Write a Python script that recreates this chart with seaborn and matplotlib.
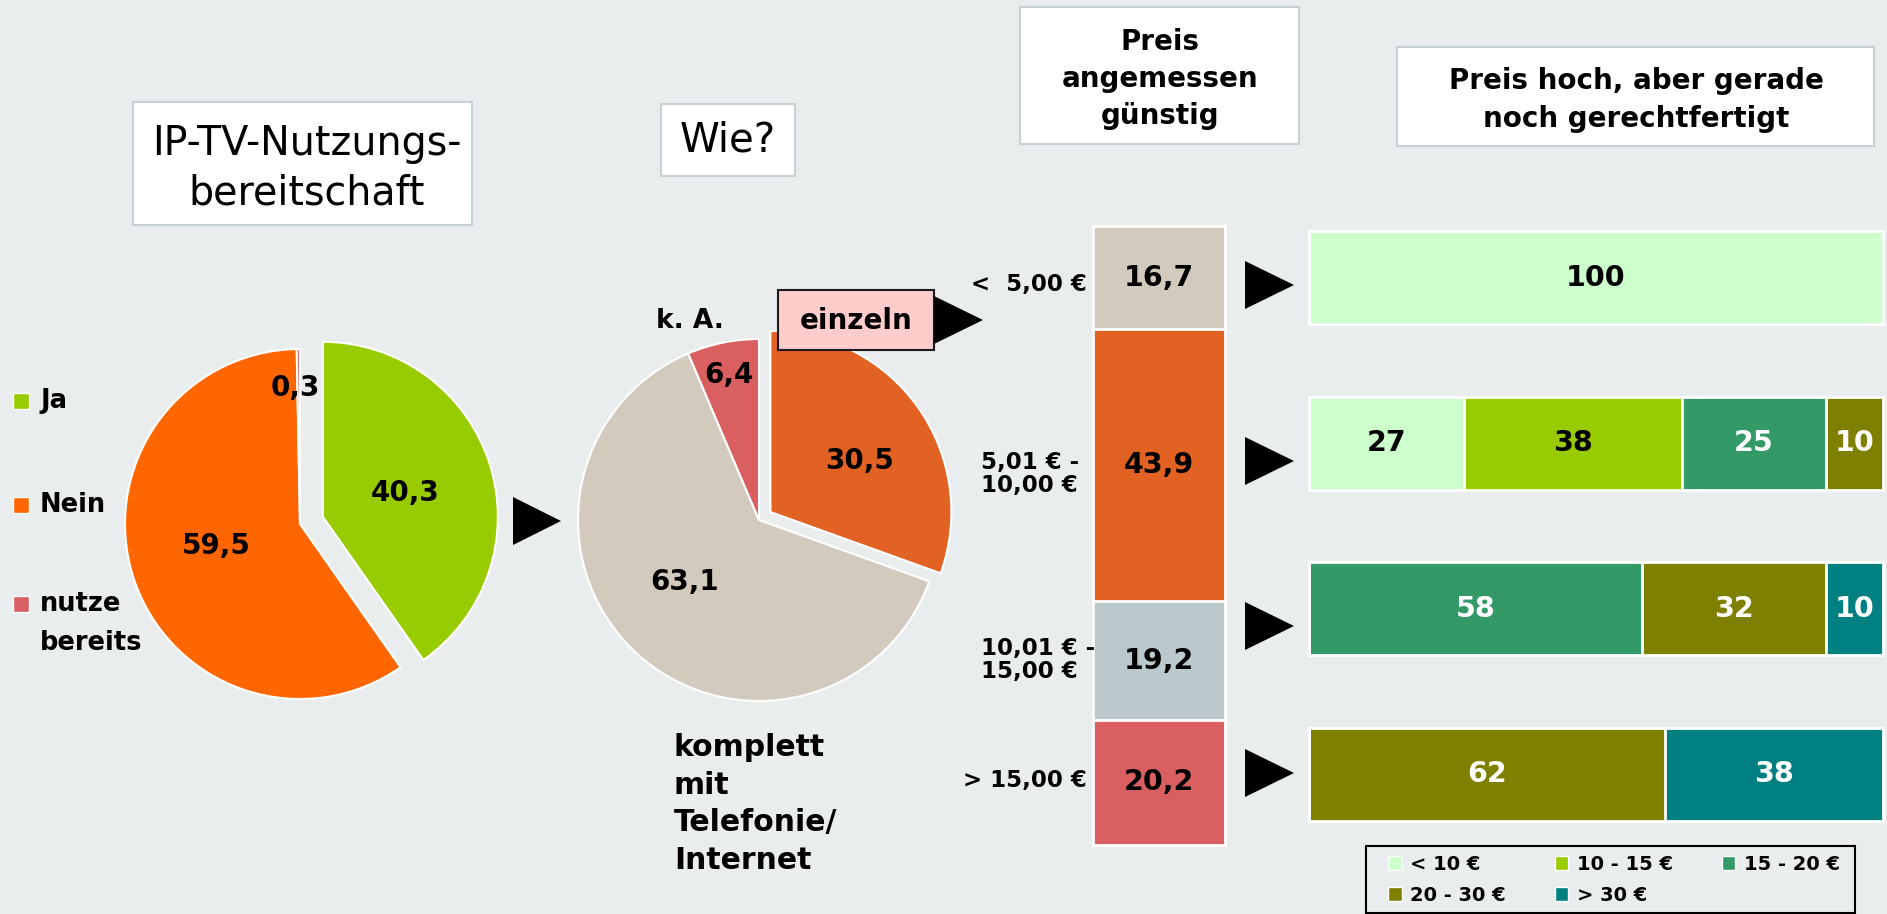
import numpy as np
import matplotlib
matplotlib.use("Agg")
import matplotlib.pyplot as plt
import seaborn as sns
from matplotlib.patches import Rectangle, Polygon, Patch

# ---- data ----
use_labels = ["Ja", "Nein", "nutze\nbereits"]
use_values = [40.3, 59.5, 0.3]
use_colors = ["#99CC00", "#FF6600", "#DA5F62"]

how_labels = ["einzeln", "komplett\nmit\nTelefonie/\nInternet", "k. A."]
how_values = [30.5, 63.1, 6.4]
how_colors = ["#E16222", "#D2CABD", "#D95F60"]

price_labels = ["<  5,00 €", "5,01 € -\n10,00 €", "10,01 € -\n15,00 €", "> 15,00 €"]
price_values = [16.7, 43.9, 19.2, 20.2]
price_colors = ["#D2CABD", "#E16222", "#BBC8CC", "#D95F60"]

high_rows = ["< 5,00", "5,01-10,00", "10,01-15,00", "> 15,00"]
high_cats = ["< 10 €", "10 - 15 €", "15 - 20 €", "20 - 30 €", "> 30 €"]
high_lt10 = [100, 27, 0, 0]
high_10_15 = [0, 38, 0, 0]
high_15_20 = [0, 25, 58, 0]
high_20_30 = [0, 10, 32, 62]
high_gt30 = [0, 0, 10, 38]
high_colors = ["#CCFFCC", "#99CC00", "#339966", "#808000", "#008080"]
high_textcol = ["black", "black", "white", "white", "white"]

BG = "#E9EDEE"
W, H = 1887, 914


def de(v):
    return f"{v:.1f}".replace(".", ",")


sns.set_theme(style="white")
plt.rcParams["font.family"] = ["DejaVu Sans"]
plt.rcParams["text.color"] = "black"

fig = plt.figure(figsize=(W / 100, H / 100), dpi=100)
fig.patch.set_facecolor(BG)


def px_axes(x0, y0, x1, y1):
    a = fig.add_axes([x0 / W, 1 - y1 / H, (x1 - x0) / W, (y1 - y0) / H])
    a.patch.set_alpha(0)
    return a


# ---- pie 1: Nutzungsbereitschaft ----
c1, r1 = (300, 524), 175
ax1 = px_axes(c1[0] - 210, c1[1] - 210, c1[0] + 210, c1[1] + 210)
ax1.pie(use_values, colors=use_colors, startangle=90, counterclock=False,
        explode=[0.137, 0, 0], wedgeprops=dict(edgecolor="white", linewidth=1.5))
ax1.set_xlim(-210 / r1, 210 / r1)
ax1.set_ylim(-210 / r1, 210 / r1)

# ---- pie 2: Wie? ----
c2, r2 = (759, 520), 181
ax2 = px_axes(c2[0] - 215, c2[1] - 215, c2[0] + 215, c2[1] + 215)
ax2.pie(how_values, colors=how_colors, startangle=90, counterclock=False,
        explode=[0.077, 0, 0], wedgeprops=dict(edgecolor="white", linewidth=1.5))
ax2.set_xlim(-215 / r2, 215 / r2)
ax2.set_ylim(-215 / r2, 215 / r2)

# ---- vertical stacked bar: Preis angemessen ----
ax3 = px_axes(1093, 226, 1225, 845)
cum = np.cumsum(price_values)
for i in range(len(price_values) - 1, -1, -1):
    sns.barplot(x=[0], y=[cum[i]], color=price_colors[i], width=1, saturation=1,
                edgecolor="white", linewidth=2, ax=ax3)
for p in ax3.patches:
    p.set_clip_on(False)
for i, v in enumerate(price_values):
    ax3.text(0, cum[i] - v / 2, de(v), ha="center", va="center",
             fontsize=20.5, fontweight="bold", color="black")
ax3.set_xlim(-0.5, 0.5)
ax3.set_ylim(100, 0)
ax3.axis("off")

# ---- horizontal stacked bars: Preis hoch ----
ax4 = px_axes(1309, 195, 1883, 857)
segs = np.array([high_lt10, high_10_15, high_15_20, high_20_30, high_gt30])
hcum = np.cumsum(segs, axis=0)
for k in range(len(high_cats) - 1, -1, -1):
    sns.barplot(x=hcum[k], y=high_rows, orient="h", color=high_colors[k], width=0.56,
                saturation=1, edgecolor="white", linewidth=2, ax=ax4)
for p in ax4.patches:
    p.set_clip_on(False)
for k in range(len(high_cats)):
    for r in range(len(high_rows)):
        v = segs[k, r]
        if v > 0:
            ax4.text(hcum[k, r] - v / 2, r, str(v), ha="center", va="center",
                     fontsize=20.5, fontweight="bold", color=high_textcol[k])
ax4.set_xlim(0, 100)
ax4.set_ylim(len(high_rows) - 0.5, -0.5)
ax4.axis("off")

# ---- overlay canvas for boxes, arrows and labels ----
cv = px_axes(0, 0, W, H)
cv.set_xlim(0, W)
cv.set_ylim(H, 0)
cv.axis("off")


def box(x0, y0, x1, y1, fc="white", ec="#C5D1D6", lw=1.5):
    cv.add_patch(Rectangle((x0, y0), x1 - x0, y1 - y0, facecolor=fc, edgecolor=ec, linewidth=lw))


def arrow(x0, x1, yc, h=48):
    cv.add_patch(Polygon([(x0, yc - h / 2), (x0, yc + h / 2), (x1, yc)], closed=True,
                         facecolor="black", edgecolor="none"))


box(133, 102, 472, 225)
cv.text(307, 169, "IP-TV-Nutzungs-\nbereitschaft", ha="center", va="center",
        fontsize=28.5, linespacing=1.3)
box(661, 104, 795, 176)
cv.text(728, 141, "Wie?", ha="center", va="center", fontsize=29)
box(1020, 7, 1299, 144)
cv.text(1160, 79, "Preis\nangemessen\ngünstig", ha="center", va="center",
        fontsize=20, fontweight="bold", linespacing=1.42)
box(1397, 47, 1874, 146)
cv.text(1636, 100, "Preis hoch, aber gerade\nnoch gerechtfertigt", ha="center", va="center",
        fontsize=20, fontweight="bold", linespacing=1.45)

# pie 1 legend
leg_y = [401, 505, 604]
for lab, col, y in zip(use_labels, use_colors, leg_y):
    cv.add_patch(Rectangle((13, y - 8), 16, 16, facecolor=col, edgecolor="white", linewidth=1))
    cv.text(40, y - 13, lab, ha="left", va="top", fontsize=18.5, fontweight="bold",
            linespacing=1.65)

# pie value labels
pie1_pos = [(405, 493), (216, 546), (295, 388)]
for v, (x, y) in zip(use_values, pie1_pos):
    cv.text(x, y, de(v), ha="center", va="center", fontsize=20, fontweight="bold")
pie2_pos = [(860, 461), (685, 582), (729, 375)]
for v, (x, y) in zip(how_values, pie2_pos):
    cv.text(x, y, de(v), ha="center", va="center", fontsize=20, fontweight="bold")

# pie 2 category labels
box(778, 290, 934, 350, fc="#FFCCCC", ec="#1A1A1A", lw=1.5)
cv.text(856, 321, how_labels[0], ha="center", va="center", fontsize=20, fontweight="bold")
cv.text(674, 804, how_labels[1], ha="left", va="center", fontsize=21.5, fontweight="bold",
        linespacing=1.38)
cv.text(690, 321, how_labels[2], ha="center", va="center", fontsize=19, fontweight="bold")

# price labels next to the vertical bar
cv.text(1087, 285, price_labels[0], ha="right", va="center", fontsize=16.5, fontweight="bold")
cv.text(981, 474, price_labels[1], ha="left", va="center", fontsize=16.5, fontweight="bold",
        linespacing=1.0)
cv.text(981, 660, price_labels[2], ha="left", va="center", fontsize=16.5, fontweight="bold",
        linespacing=1.0)
cv.text(1087, 780, price_labels[3], ha="right", va="center", fontsize=16.5, fontweight="bold")

# arrows
arrow(513, 561, 521)
arrow(934, 983, 320)
for yc in [285, 461, 626, 773]:
    arrow(1245, 1294, yc)

# legend for the right-hand bars
box(1366, 846, 1855, 913, fc="none", ec="black", lw=1.5)
order = [0, 3, 1, 4, 2]
handles = [Patch(facecolor=high_colors[i], edgecolor="white", linewidth=1) for i in order]
labels = [high_cats[i] for i in order]
fig.legend(handles, labels, ncol=3, loc="upper left",
           bbox_to_anchor=(1388 / W, 1 - 855 / H), frameon=False,
           prop=dict(size=14, weight="bold"), borderpad=0, borderaxespad=0,
           handlelength=0.7, handleheight=0.7, handletextpad=0.45,
           columnspacing=2.5, labelspacing=0.6)

fig.savefig("out.png", dpi=100, facecolor=BG)
